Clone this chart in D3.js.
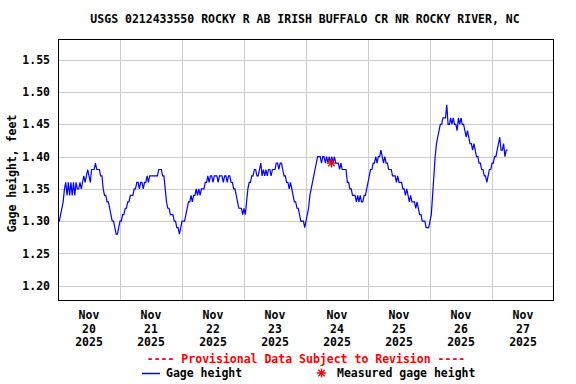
<!DOCTYPE html>
<html>
<head>
<meta charset="utf-8">
<title>USGS 0212433550 Gage height</title>
<script src="https://d3js.org/d3.v7.min.js"></script>
<style>
	body { margin: 0; background: #fff; }
	text { font-family: "DejaVu Sans Mono", monospace; font-weight: bold; font-size: 11.5px; }
</style>
</head>
<body>
	<div id="chart"></div>

	<script type="text/javascript">

	var title = "USGS 0212433550 ROCKY R AB IRISH BUFFALO CR NR ROCKY RIVER, NC";
	var yLabel = "Gage height, feet";
	var provisional = "---- Provisional Data Subject to Revision ----";

	// 30 minute readings starting Nov 20 2025 00:00
	var startTime = Date.UTC(2025, 10, 20, 0, 0);
	var stepMinutes = 30;
	var gageHeight = [
		// Nov 20
		1.30,1.30,1.31,1.32,1.33,1.35,1.36,1.34,1.36,1.34,1.36,1.34,1.36,1.34,1.36,1.35,
		1.35,1.36,1.35,1.36,1.37,1.36,1.37,1.38,1.37,1.36,1.38,1.38,1.38,1.39,1.38,1.38,
		1.38,1.37,1.37,1.35,1.34,1.34,1.33,1.33,1.32,1.31,1.30,1.30,1.29,1.28,1.28,1.29,
		// Nov 21
		1.30,1.30,1.31,1.31,1.32,1.32,1.33,1.33,1.34,1.34,1.34,1.35,1.35,1.36,1.36,1.35,
		1.36,1.36,1.35,1.36,1.36,1.37,1.36,1.37,1.37,1.37,1.37,1.37,1.37,1.37,1.38,1.38,
		1.38,1.37,1.37,1.35,1.33,1.32,1.32,1.31,1.31,1.31,1.30,1.30,1.29,1.29,1.28,1.29,
		// Nov 22
		1.30,1.30,1.30,1.31,1.32,1.33,1.33,1.34,1.33,1.34,1.34,1.35,1.34,1.35,1.34,1.35,
		1.35,1.35,1.36,1.36,1.37,1.36,1.37,1.37,1.36,1.37,1.37,1.37,1.36,1.37,1.37,1.37,
		1.36,1.37,1.37,1.36,1.37,1.37,1.36,1.36,1.35,1.35,1.34,1.33,1.32,1.32,1.32,1.31,
		// Nov 23
		1.32,1.31,1.33,1.35,1.36,1.36,1.37,1.37,1.38,1.38,1.37,1.37,1.38,1.39,1.37,1.38,
		1.37,1.38,1.37,1.38,1.38,1.37,1.38,1.38,1.38,1.39,1.39,1.38,1.39,1.39,1.38,1.37,
		1.37,1.36,1.36,1.35,1.36,1.35,1.34,1.33,1.33,1.32,1.32,1.31,1.30,1.30,1.30,1.29,
		// Nov 24
		1.30,1.31,1.32,1.34,1.35,1.36,1.37,1.38,1.39,1.40,1.40,1.40,1.39,1.40,1.40,1.39,
		1.40,1.39,1.40,1.39,1.40,1.39,1.40,1.39,1.39,1.39,1.38,1.39,1.38,1.38,1.38,1.38,
		1.36,1.36,1.35,1.35,1.34,1.34,1.34,1.33,1.34,1.33,1.34,1.33,1.33,1.34,1.34,1.35,
		// Nov 25
		1.36,1.37,1.38,1.38,1.39,1.39,1.40,1.39,1.40,1.40,1.41,1.40,1.39,1.40,1.39,1.39,
		1.38,1.38,1.38,1.37,1.37,1.37,1.36,1.37,1.36,1.36,1.36,1.35,1.35,1.34,1.35,1.34,
		1.33,1.34,1.33,1.33,1.33,1.32,1.33,1.32,1.31,1.31,1.30,1.30,1.30,1.29,1.29,1.29,
		// Nov 26
		1.30,1.31,1.34,1.37,1.40,1.42,1.43,1.44,1.45,1.45,1.46,1.46,1.46,1.48,1.45,1.45,
		1.46,1.45,1.46,1.45,1.45,1.44,1.46,1.45,1.46,1.45,1.45,1.44,1.43,1.44,1.43,1.42,
		1.42,1.41,1.42,1.41,1.40,1.40,1.39,1.39,1.38,1.38,1.37,1.37,1.36,1.37,1.38,1.38,
		// Nov 27
		1.39,1.39,1.40,1.40,1.41,1.42,1.43,1.41,1.41,1.42,1.40,1.41,1.41
	];

	var measuredTime = [Date.UTC(2025, 10, 24, 9, 50)];
	var measuredHeight = [1.39];

	var yTicks = [1.20, 1.25, 1.30, 1.35, 1.40, 1.45, 1.50, 1.55];
	var dayLabels = ["20", "21", "22", "23", "24", "25", "26", "27"];
	var monthLabel = "Nov";
	var yearLabel = "2025";

	var width = 576;
	var height = 384;
	var margin = {left: 58, right: 22, top: 39, bottom: 84};
	var plotW = width - margin.left - margin.right;
	var plotH = height - margin.top - margin.bottom;

	var svg = d3.select("#chart").append("svg").attr("width", width).attr("height", height);

	var x = d3.scaleUtc()
		.domain([new Date(Date.UTC(2025, 10, 20)), new Date(Date.UTC(2025, 10, 28))])
		.range([margin.left, margin.left + plotW]);
	var y = d3.scaleLinear()
		.domain([1.178, 1.582])
		.range([margin.top + plotH, margin.top]);

	var data = gageHeight.map(function(v, i) {
		return {t: new Date(startTime + i * stepMinutes * 60000), v: v};
	});

	// grid
	var grid = svg.append("g").attr("stroke", "#cccccc").attr("stroke-width", 1).attr("shape-rendering", "crispEdges");
	grid.selectAll(".hgrid").data(yTicks).enter().append("line")
		.attr("x1", margin.left).attr("x2", margin.left + plotW)
		.attr("y1", function(d) { return Math.round(y(d)) + 0.5; })
		.attr("y2", function(d) { return Math.round(y(d)) + 0.5; });
	var midnights = d3.utcDay.range(new Date(Date.UTC(2025, 10, 21)), new Date(Date.UTC(2025, 10, 28)));
	grid.selectAll(".vgrid").data(midnights).enter().append("line")
		.attr("y1", margin.top).attr("y2", margin.top + plotH)
		.attr("x1", function(d) { return Math.round(x(d)) + 0.5; })
		.attr("x2", function(d) { return Math.round(x(d)) + 0.5; });

	// y tick labels
	svg.append("g").selectAll("text").data(yTicks).enter().append("text")
		.attr("x", 50).attr("y", function(d) { return y(d); })
		.attr("dy", "0.35em").attr("text-anchor", "end")
		.text(function(d) { return d3.format(".2f")(d); });

	// x labels at noon of each day
	var noons = dayLabels.map(function(d, i) { return new Date(Date.UTC(2025, 10, 20 + i, 12)); });
	var xl = svg.append("g").selectAll("text").data(noons).enter().append("text")
		.attr("text-anchor", "middle")
		.attr("x", function(d) { return x(d); })
		.attr("y", 319);
	xl.append("tspan").attr("x", function(d) { return x(d); }).text(monthLabel);
	xl.append("tspan").attr("x", function(d) { return x(d); }).attr("dy", 13.5).text(function(d, i) { return dayLabels[i]; });
	xl.append("tspan").attr("x", function(d) { return x(d); }).attr("dy", 13.5).text(yearLabel);

	// series
	var line = d3.line().x(function(d) { return x(d.t); }).y(function(d) { return y(d.v); });
	svg.append("path").datum(data)
		.attr("fill", "none").attr("stroke", "#0000ff").attr("stroke-width", 1.2)
		.attr("d", line);

	// asterisk symbol
	function asterisk(r) {
		var d = "";
		[0, 45, 90, 135].forEach(function(a) {
			var c = Math.cos(a * Math.PI / 180) * r, s = Math.sin(a * Math.PI / 180) * r;
			d += "M" + (-c) + "," + (-s) + "L" + c + "," + s;
		});
		return d;
	}

	svg.append("g").selectAll("path").data(measuredTime).enter().append("path")
		.attr("transform", function(d, i) { return "translate(" + x(new Date(d)) + "," + y(measuredHeight[i]) + ")"; })
		.attr("d", asterisk(4.5)).attr("stroke", "#ff0000").attr("stroke-width", 1.3).attr("fill", "none");

	// frame
	svg.append("rect")
		.attr("x", margin.left + 0.5).attr("y", margin.top + 0.5)
		.attr("width", plotW - 1).attr("height", plotH)
		.attr("fill", "none").attr("stroke", "#000").attr("stroke-width", 1.2)
		.attr("shape-rendering", "crispEdges");

	// title and axis label
	svg.append("text").attr("x", margin.left + plotW / 2 - 1).attr("y", 23)
		.attr("text-anchor", "middle").text(title);
	svg.append("text")
		.attr("transform", "translate(16," + (margin.top + plotH / 2 + 4) + ") rotate(-90)")
		.attr("text-anchor", "middle").text(yLabel);

	// legend
	svg.append("text").attr("x", 306).attr("y", 363).attr("text-anchor", "middle")
		.attr("fill", "#ff0000").text(provisional);
	svg.append("line").attr("x1", 142).attr("x2", 160).attr("y1", 373.5).attr("y2", 373.5)
		.attr("stroke", "#0000ff").attr("stroke-width", 1.5);
	svg.append("text").attr("x", 166).attr("y", 377).text("Gage height");
	svg.append("path").attr("transform", "translate(321.5,373)")
		.attr("d", asterisk(4.5)).attr("stroke", "#ff0000").attr("stroke-width", 1.3).attr("fill", "none");
	svg.append("text").attr("x", 337).attr("y", 377).text("Measured gage height");

	</script>
</body>
</html>
